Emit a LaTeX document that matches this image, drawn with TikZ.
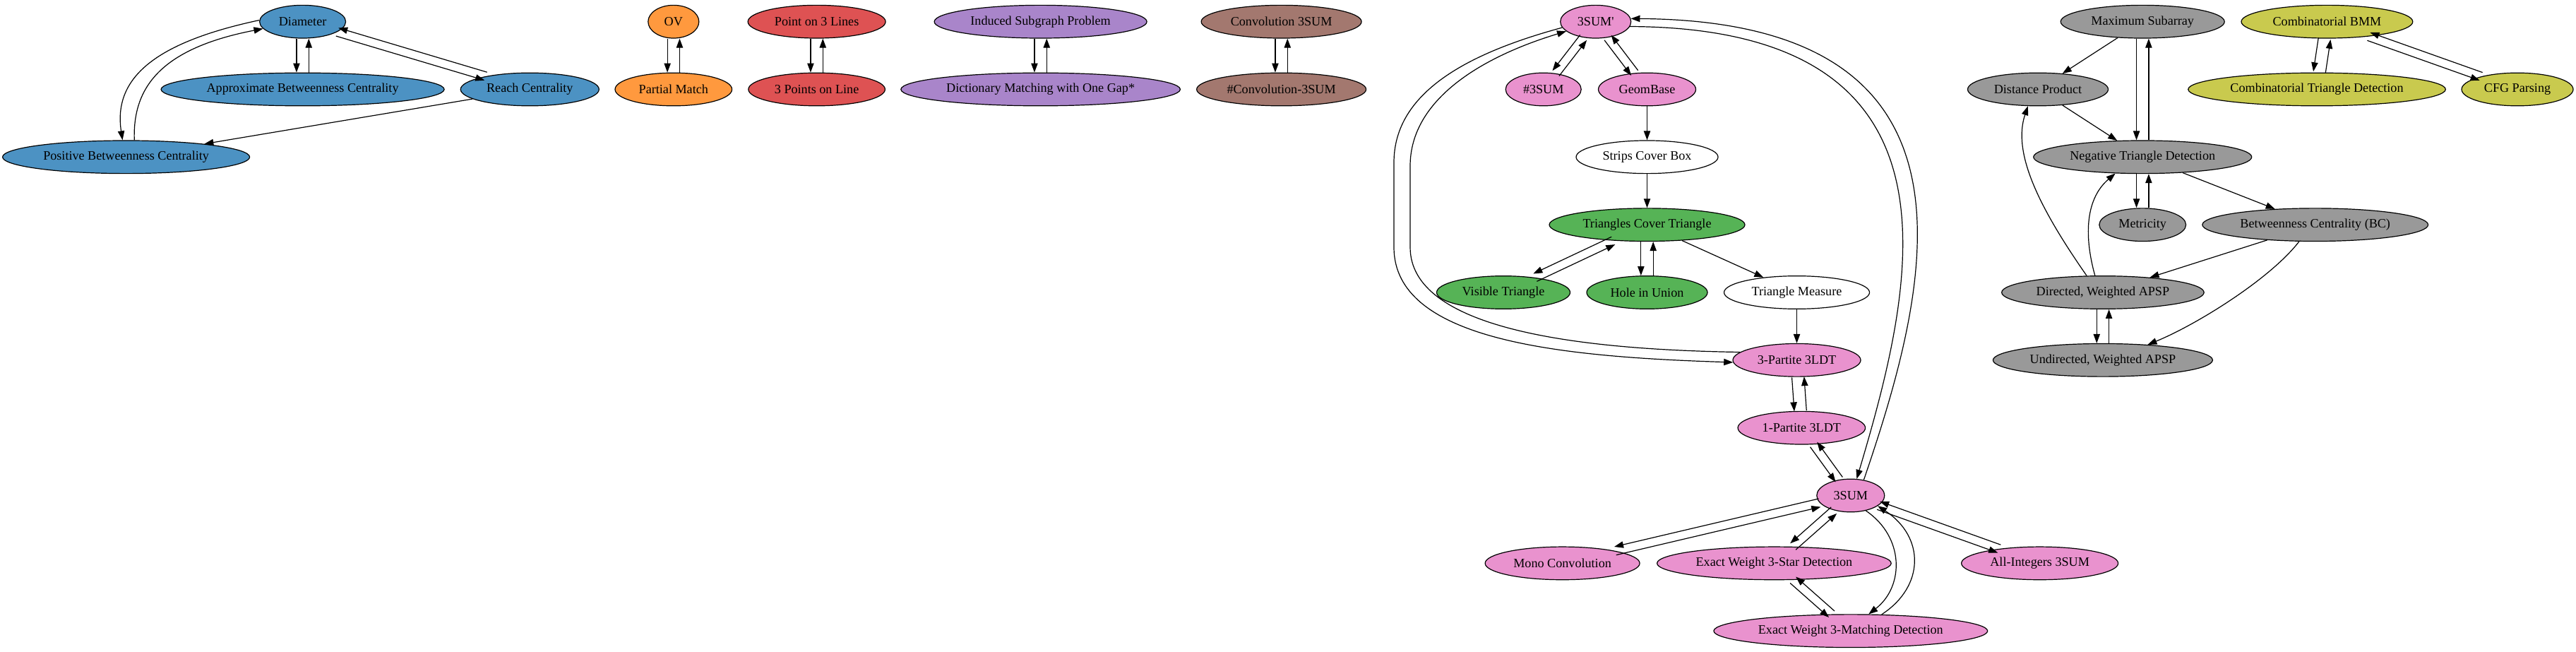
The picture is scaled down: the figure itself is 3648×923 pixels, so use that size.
\documentclass[tikz,border=0pt]{standalone}
\usepackage{fontspec}
\setmainfont{Liberation Serif}
\usetikzlibrary{shapes.geometric,arrows.meta,calc}
\definecolor{tblue}{RGB}{31,119,180}
\definecolor{torange}{RGB}{255,127,14}
\definecolor{tgreen}{RGB}{44,160,44}
\definecolor{tred}{RGB}{214,39,40}
\definecolor{tpurple}{RGB}{148,103,189}
\definecolor{tbrown}{RGB}{140,86,75}
\definecolor{tpink}{RGB}{227,119,194}
\definecolor{tgray}{RGB}{127,127,127}
\definecolor{tolive}{RGB}{188,189,34}
\tikzset{
  nd/.style={ellipse, draw=black, line width=0.9pt, inner sep=0pt, minimum height=35pt,
             font=\fontsize{13.6}{16}\selectfont, text=black},
  cblue/.style={nd, fill=tblue!80!white},
  corange/.style={nd, fill=torange!80!white},
  cgreen/.style={nd, fill=tgreen!80!white},
  cred/.style={nd, fill=tred!80!white},
  cpurple/.style={nd, fill=tpurple!80!white},
  cbrown/.style={nd, fill=tbrown!80!white},
  cpink/.style={nd, fill=tpink!80!white},
  cgray/.style={nd, fill=tgray!80!white},
  colive/.style={nd, fill=tolive!80!white},
  cwhite/.style={nd, fill=white},
  edge/.style={-{Triangle[length=9.75pt,width=7pt]}, line width=0.9pt, draw=black},
}
\newcommand\bip[3][4.5pt]{%
  \begin{scope}[transform canvas={shift={($(#2)!#1!-90:(#3)-(#2)$)}}]
    \draw[edge] (#2) -- (#3);
  \end{scope}
  \begin{scope}[transform canvas={shift={($(#3)!#1!-90:(#2)-(#3)$)}}]
    \draw[edge] (#3) -- (#2);
  \end{scope}}
\begin{document}
\begin{tikzpicture}[x=0.75pt,y=-0.75pt]
\useasboundingbox[fill=white] (0,0) rectangle (3648,923);
% rows
\def\ra{30.7}\def\rb{126.5}\def\rc{222.3}\def\rd{318.2}\def\re{414}
\def\rf{509.8}\def\rg{605.7}\def\rh{701.5}\def\ri{797.4}\def\rj{893.2}
% group 1
\node[cblue, minimum width=91.5pt]  (diam)  at (428.6,\ra) {Diameter};
\node[cblue, minimum width=300.75pt](abc)   at (428.6,\rb) {Approximate Betweenness Centrality};
\node[cblue, minimum width=147pt]   (reach) at (750.3,\rb) {Reach Centrality};
\node[cblue, minimum width=262.5pt] (pbc)   at (178.6,\rc) {Positive Betweenness Centrality};
% group 2
\node[corange, minimum width=54pt]    (ov)   at (953.8,\ra) {OV};
\node[corange, minimum width=124.2pt] (pm)   at (953.8,\rb) {Partial Match};
\node[cred, minimum width=146.25pt]   (p3l)  at (1156.6,\ra) {Point on 3 Lines};
\node[cred, minimum width=145.2pt]    (p3pl) at (1156.6,\rb) {3 Points on Line};
\node[cpurple, minimum width=225.75pt](isp)  at (1473.6,\ra) {Induced Subgraph Problem};
\node[cpurple, minimum width=296.7pt] (dm)   at (1473.6,\rb) {Dictionary Matching with One Gap*};
\node[cbrown, minimum width=170.25pt] (c3)   at (1814.6,\ra) {Convolution 3SUM};
\node[cbrown, minimum width=180pt]    (cc3)  at (1814.6,\rb) {\#Convolution-3SUM};
% group 3
\node[cpink, minimum width=75pt]      (s3p)  at (2259.7,\ra) {3SUM\textquotesingle};
\node[cpink, minimum width=80.25pt]   (n3)   at (2185.7,\rb) {\#3SUM};
\node[cpink, minimum width=103.5pt]   (gb)   at (2332.5,\rb) {GeomBase};
\node[cwhite, minimum width=150.75pt] (scb)  at (2332.5,\rc) {Strips Cover Box};
\node[cgreen, minimum width=207.75pt] (tct)  at (2332.5,\rd) {Triangles Cover Triangle};
\node[cgreen, minimum width=141.75pt] (vt)   at (2129,\re) {Visible Triangle};
\node[cgreen, minimum width=128.25pt] (hu)   at (2332.5,\re) {Hole in Union};
\node[cwhite, minimum width=154.5pt]  (tm)   at (2544.5,\re) {Triangle Measure};
\node[cpink, minimum width=135.75pt]  (p3)   at (2544.5,\rf) {3-Partite 3LDT};
\node[cpink, minimum width=135.4pt]   (p1)   at (2551.3,\rg) {1-Partite 3LDT};
\node[cpink, minimum width=72pt]      (s3)   at (2620.8,\rh) {3SUM};
\node[cpink, minimum width=164.25pt]  (mc)   at (2212.6,\ri) {Mono Convolution};
\node[cpink, minimum width=248.7pt]   (ews)  at (2512.4,\ri) {Exact Weight 3-Star Detection};
\node[cpink, minimum width=166.5pt]   (ai)   at (2888.6,\ri) {All-Integers 3SUM};
\node[cpink, minimum width=290.85pt]  (ewm)  at (2620.8,\rj) {Exact Weight 3-Matching Detection};
% group 4
\node[cgray, minimum width=174pt]     (ms)   at (3034.2,\ra) {Maximum Subarray};
\node[cgray, minimum width=149.25pt]  (dp)   at (2886,\rb) {Distance Product};
\node[cgray, minimum width=231.75pt]  (ntd)  at (3034.2,\rc) {Negative Triangle Detection};
\node[cgray, minimum width=92.1pt]    (met)  at (3034.2,\rd) {Metricity};
\node[cgray, minimum width=239.8pt]   (bc)   at (3278.7,\rd) {Betweenness Centrality (BC)};
\node[cgray, minimum width=214.9pt]   (dap)  at (2977.9,\re) {Directed, Weighted APSP};
\node[cgray, minimum width=233.25pt]  (uap)  at (2977.9,\rf) {Undirected, Weighted APSP};
% group 5
\node[colive, minimum width=182.1pt]  (bmm)  at (3295.4,\ra) {Combinatorial BMM};
\node[colive, minimum width=273.4pt]  (ctd)  at (3281,\rb) {Combinatorial Triangle Detection};
\node[colive, minimum width=118.5pt]  (cfg)  at (3565,\rb) {CFG Parsing};

% ---- edges group 1
\bip[6.5pt]{diam}{abc}
\bip{diam}{reach}
\draw[edge] (reach) -- (pbc);
\draw[edge] (diam.178) .. controls (220,60) and (160,110) .. (pbc.102);
\draw[edge] (pbc.64) .. controls (188,130) and (220,70) .. (diam.190);
% ---- group 2
\bip[6.5pt]{ov}{pm}
\bip[6.5pt]{p3l}{p3pl}
\bip[6.5pt]{isp}{dm}
\bip[6.5pt]{c3}{cc3}
% ---- group 3
\bip{s3p}{n3}
\bip{s3p}{gb}
\draw[edge] (gb) -- (scb);
\draw[edge] (scb) -- (tct);
\bip{tct}{vt}
\bip[6.5pt]{tct}{hu}
\draw[edge] (tct) -- (tm);
\draw[edge] (tm) -- (p3);
\draw[edge] (s3p.190) .. controls (2080,75) and (1974,130) .. (1974,230)
   -- (1974,350) .. controls (1974,480) and (2200,505) .. (p3.182);
\draw[edge] (p3.172) .. controls (2230,495) and (1997,465) .. (1997,350)
   -- (1997,235) .. controls (1997,140) and (2100,80) .. (s3p.198);
\draw[edge] (s3p.-8) .. controls (2800,40) and (2712,400) .. (s3.70);
\draw[edge] (s3.50) .. controls (2735,400) and (2830,30) .. (s3p.5);
\bip[6.5pt]{p3}{p1}
\bip{p1}{s3}
\bip{s3}{mc}
\bip{s3}{ews}
\bip{s3}{ai}
\bip{ews}{ewm}
\draw[edge] (s3.-45) .. controls (2697,760) and (2697,830) .. (ewm.43);
\draw[edge] (ewm.28) .. controls (2726,830) and (2726,760) .. (s3.-21);
% ---- group 4
\draw[edge] (ms) -- (dp);
\bip[6.5pt]{ms}{ntd}
\draw[edge] (dp) -- (ntd);
\bip[6.5pt]{ntd}{met}
\draw[edge] (ntd) -- (bc);
\draw[edge] (bc) -- (dap);
\draw[edge] (bc.-134) .. controls (3215,395) and (3110,460) .. (uap.19);
\draw[edge] (dap.134) .. controls (2885,290) and (2850,215) .. (dp.-121);
\draw[edge] (dap.115) .. controls (2950,330) and (2955,280) .. (ntd.211);
\bip[6.5pt]{dap}{uap}
% ---- group 5
\bip[6.5pt]{bmm}{ctd}
\bip{bmm}{cfg}
\end{tikzpicture}
\end{document}
